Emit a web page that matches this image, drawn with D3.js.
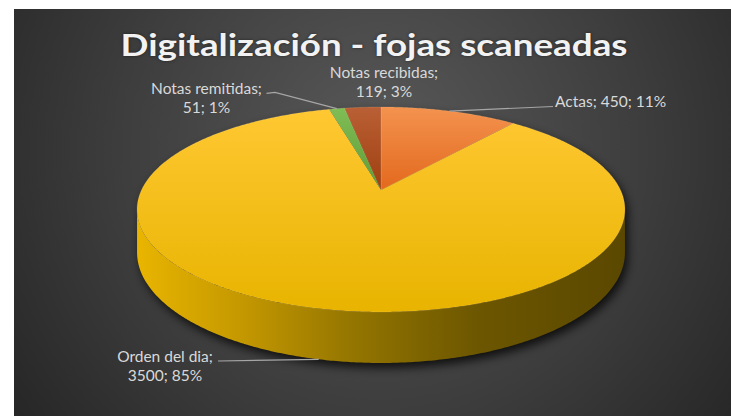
<!DOCTYPE html>
<html><head><meta charset="utf-8">
<script src="https://cdn.jsdelivr.net/npm/d3@7"></script>
<style>html,body{margin:0;padding:0;background:#fff;} svg{display:block}</style>
</head><body>
<svg id="c" width="731" height="416"></svg>
<script>
// ---- data ----
const categories = ["Actas", "Orden del dia", "Notas remitidas", "Notas recibidas"];
const values = [450, 3500, 51, 119];
const titleText = "Digitalización - fojas scaneadas";

// ---- styles ----
const topColors = [["#f3924f", "#e3691d"], ["#ffc833", "#e8b400"], ["#80bd55", "#5e9c37"], ["#ba6036", "#9e3f0e"]];
const labelLayout = {
  "Actas":           {x: 555, y: 106.5, anchor: "start",  split: false, side: "top",    via: [],          end: [553, 106.5]},
  "Orden del dia":   {x: 165, y: 361.7, anchor: "middle", split: true,  side: "bottom", via: [],          end: [218, 361]},
  "Notas remitidas": {x: 206.5, y: 94.3, anchor: "middle", split: true, side: "top",    via: [[275, 92.3]], end: [266.5, 93.3]},
  "Notas recibidas": {x: 384, y: 78.3, anchor: "middle",  split: true,  side: "none",   via: [],          end: null}
};

const W = 731, H = 416;
const svg = d3.select("#c");
const defs = svg.append("defs");

// background
const bg = defs.append("radialGradient").attr("id", "bg")
  .attr("gradientUnits", "userSpaceOnUse").attr("cx", 380).attr("cy", 150).attr("r", 480);
bg.append("stop").attr("offset", 0).attr("stop-color", "#595959");
bg.append("stop").attr("offset", 0.55).attr("stop-color", "#3d3d3d");
bg.append("stop").attr("offset", 1).attr("stop-color", "#232323");
svg.append("rect").attr("x", 14).attr("y", 9).attr("width", W - 14).attr("height", H - 9).attr("fill", "url(#bg)");

// projection of a tilted disc (perspective)
const P = {cx: 381, cy: 190, a: 239.5, b: 98.8, k: 0.19, h: 41.3};
function proj(theta, drop = 0) {
  const u = Math.sin(theta), v = -Math.cos(theta);
  const w = 1 - P.k * v;
  return [P.cx + P.a * u / w, P.cy + P.b * v / w + drop / w];
}
function rim(t0, t1, drop = 0) {
  const n = Math.max(2, Math.ceil(Math.abs(t1 - t0) / (Math.PI / 360)));
  return d3.range(n + 1).map(i => proj(t0 + (t1 - t0) * i / n, drop));
}
const line = d3.line();

const tR = Math.acos(-P.k), tL = 2 * Math.PI - tR;
const sidePts = rim(tR, tL, 0).concat(rim(tL, tR, P.h));
const ellipsePts = rim(0, 2 * Math.PI, 0);

// shadow
const f = defs.append("filter").attr("id", "sh").attr("x", "-20%").attr("y", "-20%").attr("width", "140%").attr("height", "140%");
f.append("feGaussianBlur").attr("stdDeviation", 5);
const shadowG = svg.append("g").attr("filter", "url(#sh)").attr("transform", "translate(3,5)").attr("opacity", 0.75);
shadowG.append("path").attr("d", line(sidePts) + "Z").attr("fill", "#000");
shadowG.append("path").attr("d", line(ellipsePts) + "Z").attr("fill", "#000");

// side gradient
const sg = defs.append("linearGradient").attr("id", "side").attr("gradientUnits", "userSpaceOnUse")
  .attr("x1", 137).attr("y1", 0).attr("x2", 625).attr("y2", 0);
[[0, "#e9b500"], [0.22, "#c39700"], [0.45, "#927400"], [0.7, "#6c5600"], [1, "#5b4800"]]
  .forEach(([o, c]) => sg.append("stop").attr("offset", o).attr("stop-color", c));

const arcs = d3.pie().sort(null).value(d => d)(values);

// side
svg.append("path").attr("d", line(sidePts) + "Z").attr("fill", "url(#side)");

// top faces
arcs.forEach((a, i) => {
  const id = "tg" + i;
  const g = defs.append("linearGradient").attr("id", id).attr("gradientUnits", "userSpaceOnUse")
    .attr("x1", 0).attr("y1", 107).attr("x2", 0).attr("y2", i === 1 ? 312 : 190);
  g.append("stop").attr("offset", 0).attr("stop-color", topColors[i][0]);
  g.append("stop").attr("offset", 1).attr("stop-color", topColors[i][1]);
  const pts = [[P.cx, P.cy]].concat(rim(a.startAngle, a.endAngle, 0));
  svg.append("path").attr("d", line(pts) + "Z").attr("fill", `url(#${id})`)
    .attr("stroke", "rgba(255,230,180,0.25)").attr("stroke-width", 0.6);
});

// title
svg.append("text").attr("x", 374).attr("y", 55.5).attr("text-anchor", "middle")
  .attr("font-family", "Lato, 'Open Sans', sans-serif").attr("font-weight", "bold").attr("font-size", 31)
  .attr("fill", "#f2f2f2").attr("textLength", 507).attr("lengthAdjust", "spacingAndGlyphs")
  .style("text-shadow", "0 0 3px rgba(0,0,0,0.5)")
  .text(titleText);

// labels and leaders
const total = d3.sum(values);
const lh = 18.8;
arcs.forEach((a, i) => {
  const cat = categories[i];
  const L = labelLayout[cat];
  const pct = Math.round(values[i] / total * 100) + "%";
  const lines = L.split ? [cat + ";", values[i] + "; " + pct] : [cat + "; " + values[i] + "; " + pct];
  const mid = (a.startAngle + a.endAngle) / 2;
  if (L.end) {
    const anchor = proj(mid, L.side === "bottom" ? P.h : 0);
    const pts = [anchor].concat(L.via).concat([L.end]);
    svg.append("path").attr("d", line(pts)).attr("fill", "none")
      .attr("stroke", "#a6a6a6").attr("stroke-width", 1.2);
  }
  const t = svg.append("text").attr("text-anchor", L.anchor)
    .attr("font-family", "Lato, 'Open Sans', sans-serif").attr("font-size", 15.5).attr("fill", "#d9d9d9");
  lines.forEach((s, j) => t.append("tspan").attr("x", L.x).attr("y", L.y + j * lh).text(s));
});
</script>
</body></html>
